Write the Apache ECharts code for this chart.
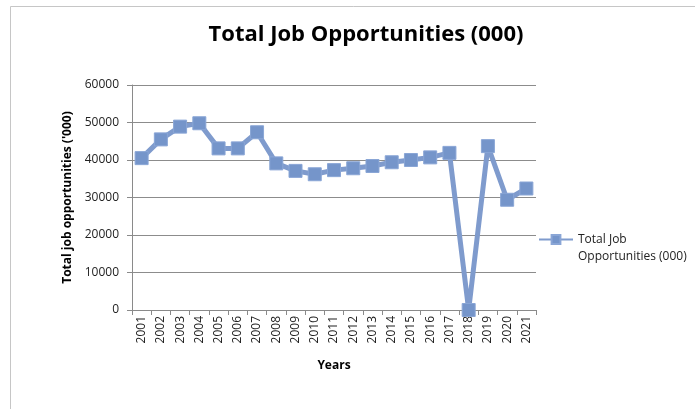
<!DOCTYPE html>
<html>
<head>
<meta charset="utf-8">
<script src="https://cdn.jsdelivr.net/npm/echarts@6/dist/echarts.min.js"></script>
<style>
  html, body { margin: 0; padding: 0; background: #fff; }
  #chart { width: 695px; height: 409px; }
</style>
</head>
<body>
<div id="chart"></div>
<script>
// Years on the category axis
const years = ['2001','2002','2003','2004','2005','2006','2007','2008','2009','2010','2011',
               '2012','2013','2014','2015','2016','2017','2018','2019','2020','2021'];

// Total job opportunities, in thousands
const jobs = [40500, 45500, 48900, 49800, 43100, 43100, 47400, 39100, 37100, 36200, 37300,
              37800, 38400, 39400, 40000, 40700, 41900, 0, 43700, 29400, 32400];

// Value-axis ticks
const yMin = 0, yMax = 60000, yStep = 10000;

const seriesName = 'Total Job Opportunities (000)';
const fontFamily = '"Open Sans", "Noto Sans", sans-serif';

const chart = echarts.init(document.getElementById('chart'), null, { renderer: 'canvas' });

chart.setOption({
  backgroundColor: '#ffffff',
  animation: false,
  textStyle: { fontFamily: fontFamily },
  graphic: [{
    type: 'rect',
    silent: true,
    shape: { x: 10.5, y: 6.5, width: 720, height: 440 },
    style: { fill: 'none', stroke: '#c6c6c6', lineWidth: 1 }
  }],
  title: {
    text: 'Total Job Opportunities (000)',
    left: 361,
    textAlign: 'center',
    top: 19,
    textStyle: { fontFamily: fontFamily, fontSize: 22, fontWeight: 'bold', color: '#000' }
  },
  grid: { left: 132, right: 159, top: 85, bottom: 99 },
  legend: {
    left: 533,
    top: 209,
    orient: 'vertical',
    itemWidth: 34,
    itemHeight: 11,
    itemGap: 0,
    // blank first line keeps "Total Job" level with the legend icon
    formatter: function () { return ' \nTotal Job\nOpportunities (000)'; },
    textStyle: { fontFamily: fontFamily, fontSize: 12, color: '#222', lineHeight: 17 },
    data: [seriesName]
  },
  xAxis: {
    type: 'category',
    data: years,
    boundaryGap: true,
    name: 'Years',
    nameLocation: 'middle',
    nameGap: 50,
    nameTextStyle: { fontFamily: fontFamily, fontSize: 12, fontWeight: 'bold', color: '#000' },
    axisLine: { show: true, lineStyle: { color: '#8a8a8a', width: 1 } },
    axisTick: { show: true, length: 5, alignWithLabel: false, lineStyle: { color: '#8a8a8a' } },
    axisLabel: { rotate: 90, margin: 6, fontSize: 12, color: '#222', fontFamily: fontFamily },
    splitLine: { show: false }
  },
  yAxis: {
    type: 'value',
    min: yMin,
    max: yMax,
    interval: yStep,
    name: "Total job opportunities ('000)",
    nameLocation: 'middle',
    nameGap: 58,
    nameTextStyle: { fontFamily: fontFamily, fontSize: 12, fontWeight: 'bold', color: '#000' },
    axisLine: { show: true, lineStyle: { color: '#8a8a8a', width: 1 } },
    axisTick: { show: true, length: 5, lineStyle: { color: '#8a8a8a' } },
    axisLabel: {
      margin: 13, fontSize: 12, color: '#222', fontFamily: fontFamily,
      formatter: function (v) { return String(v); }
    },
    splitLine: { show: true, lineStyle: { color: '#8c8c8c', width: 1 } }
  },
  series: [{
    name: seriesName,
    type: 'line',
    data: jobs,
    symbol: 'rect',
    symbolSize: 13,
    lineStyle: { color: '#7f9bcd', width: 5 },
    itemStyle: { color: '#7595ca', borderColor: '#8aa6d6', borderWidth: 1 }
  }]
});
</script>
</body>
</html>
